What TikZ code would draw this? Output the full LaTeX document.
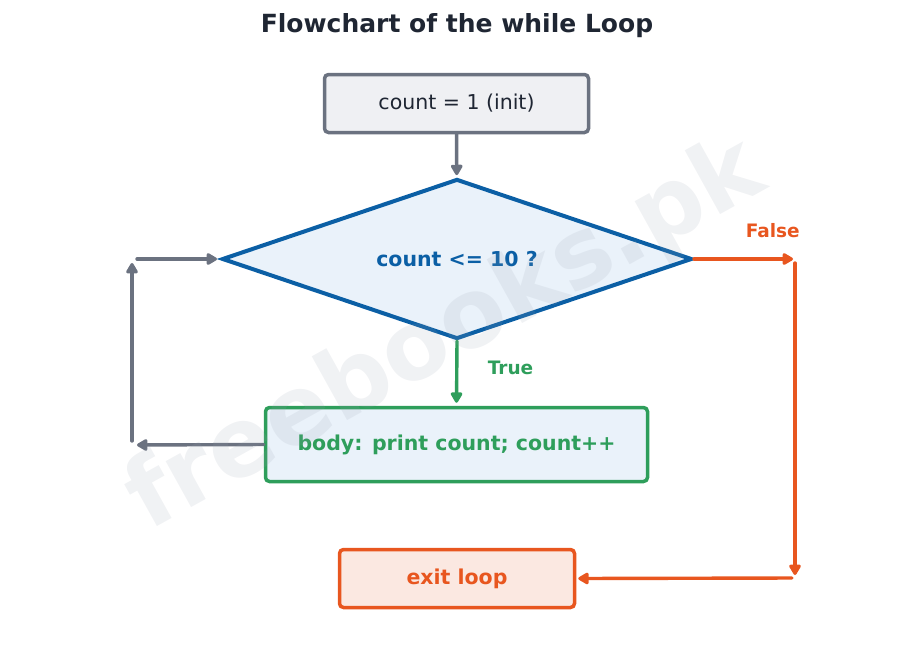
\documentclass[tikz,border=0pt]{standalone}
\usepackage{fontspec}
\setmainfont{DejaVu Sans}
\usetikzlibrary{shapes.geometric,arrows.meta}
\definecolor{inkdark}{HTML}{1F2633}
\definecolor{inkgray}{HTML}{6B7280}
\definecolor{inkblue}{HTML}{0B5FA5}
\definecolor{inkgreen}{HTML}{2E9E5B}
\definecolor{inkorange}{HTML}{E8561F}
\definecolor{fillgray}{HTML}{EFF0F3}
\definecolor{fillblue}{HTML}{EAF2FA}
\definecolor{fillorange}{HTML}{FBE8E1}
\definecolor{markgray}{HTML}{96A0AF}
\tikzset{
  flowbox/.style={draw, rounded corners=4pt, line width=3.5pt, inner sep=0pt,
    font=\fontsize{20.5}{24}\selectfont\bfseries},
  flowline/.style={line width=3.4pt, line cap=round,
    -{Triangle[length=12pt,width=13pt,round]}},
  flowlabel/.style={font=\fontsize{18.5}{22}\selectfont\bfseries},
}
% one part of the loop-back path, with gaps at both ends
\newcommand{\loopstep}[4]{
  \draw[flowline, inkgray, shorten <=#3, shorten >=#4] (#1) -- (#2);
}

\begin{document}
\begin{tikzpicture}[x=1pt, y=-1pt]
  \useasboundingbox (0, 0) rectangle (913, 662);
  \node[font=\fontsize{25}{30}\selectfont\bfseries, text=inkdark] (title)
    at (457, 26) {Flowchart of the while Loop};

  % boxes
  \node[flowbox, draw=inkgray, fill=fillgray, text=inkdark, font=\fontsize{20.5}{24}\selectfont,
    minimum width=264, minimum height=58] (init) at (456.5, 103.5) {count = 1 (init)};
  \node[shape=diamond, aspect=2.94, draw=inkblue, fill=fillblue, line width=4pt, inner sep=0pt,
    minimum width=470, minimum height=160, text=inkblue,
    font=\fontsize{20.5}{24}\selectfont\bfseries] (cond) at (457, 259) {count <= 10 ?};
  \node[flowbox, draw=inkgreen, fill=fillblue, text=inkgreen,
    minimum width=382, minimum height=74] (body) at (456.5, 444.5) {body: print count; count++};
  \node[flowbox, draw=inkorange, fill=fillorange, text=inkorange,
    minimum width=235, minimum height=58] (exit) at (457, 578.5) {exit loop};

  % corners of the connectors
  \coordinate (backlow) at (132, 445);
  \coordinate (backtop) at (132, 259);
  \coordinate (falsetop) at (795, 259);
  \coordinate (falselow) at (795, 578);

  \draw[flowline, inkgray, shorten >=2pt] (init) -- (cond);
  \draw[flowline, inkgreen, shorten >=3pt] (cond.south) -- (body.north)
    node[pos=0.42, anchor=west, xshift=26pt, flowlabel, text=inkgreen] (truelabel) {True};
  \draw[flowline, inkorange, shorten >=2pt] (cond.east) -- (falsetop)
    node[pos=0.78, anchor=south, yshift=16pt, flowlabel, text=inkorange] (falselabel) {False};
  \draw[flowline, inkorange, shorten <=4pt, shorten >=3pt] (falsetop) -- (falselow);
  \draw[flowline, inkorange, shorten <=3pt, shorten >=2pt] (falselow) -- (exit.east);

  \foreach \from/\to/\gapa/\gapb in {body.west/backlow/0pt/5pt,
      backlow/backtop/4pt/4pt, backtop/cond.west/5pt/3pt}{
    \loopstep{\from}{\to}{\gapa}{\gapb}
  }

  % watermark
  \node[rotate=29, text=markgray, opacity=0.14,
    font=\fontsize{96}{110}\selectfont\bfseries] (mark) at (446, 336) {freebooks.pk};
\end{tikzpicture}
\end{document}
